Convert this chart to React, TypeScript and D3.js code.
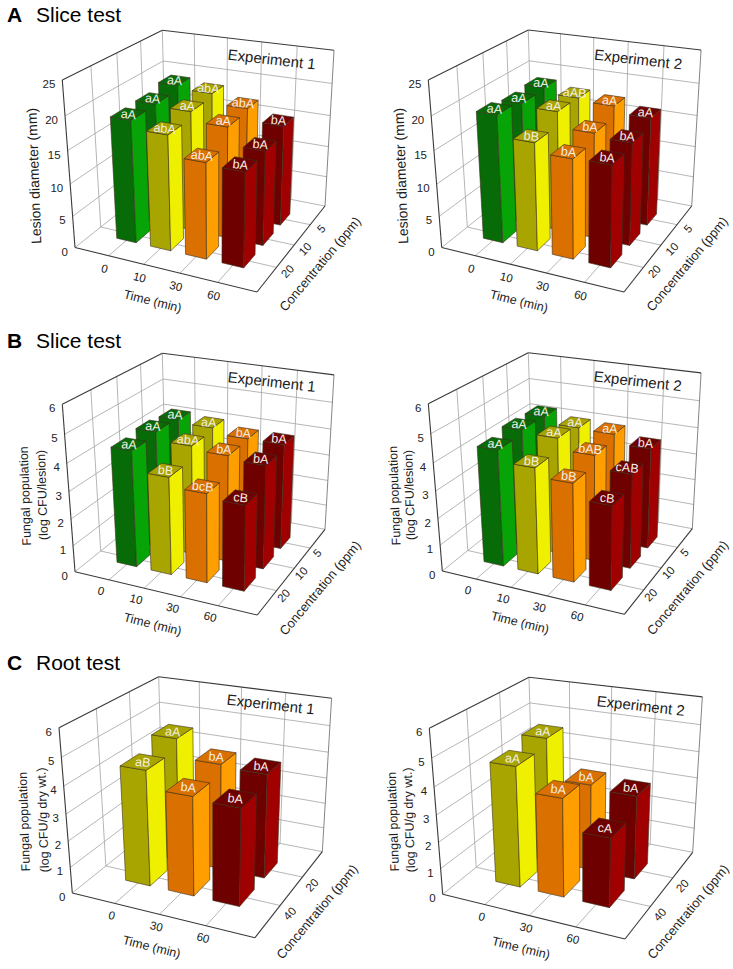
import { useEffect, useRef } from "react";
import * as d3 from "d3";

type Pt = [number, number];

const timesSlice = ["0", "10", "30", "60"];
const concSlice = ["20", "10", "5"];
const timesRoot = ["0", "30", "60"];
const concRoot = ["40", "20"];

const lesionTicks = [0, 5, 10, 15, 20, 25];
const logTicks = [0, 1, 2, 3, 4, 5, 6];

// rows follow the concentration order, front row first
const a1Values = [
  [18.8, 17.6, 14.6, 14.3],
  [18.9, 18.6, 17.2, 14.6],
  [19.6, 19.1, 17.6, 15.8],
];
const a1Letters = [
  ["aA", "abA", "abA", "bA"],
  ["aA", "aA", "aA", "bA"],
  ["aA", "abA", "abA", "bA"],
];
const a2Values = [
  [19.6, 16.5, 15.15, 15.3],
  [19, 18.6, 16.3, 15.8],
  [19.2, 18.4, 18, 17],
];
const a2Letters = [
  ["aA", "bB", "bA", "bA"],
  ["aA", "aA", "bA", "bA"],
  ["aA", "aAB", "aA", "aA"],
];
const b1Values = [
  [4.3, 3.6, 3.27, 3.12],
  [4.4, 4.1, 3.97, 3.85],
  [4.3, 4.2, 4, 4],
];
const b1Letters = [
  ["aA", "bB", "bcB", "cB"],
  ["aA", "abA", "bA", "bA"],
  ["aA", "aA", "bA", "bA"],
];
const b2Values = [
  [4.3, 3.9, 3.6, 3.07],
  [4.45, 4.35, 3.95, 3.5],
  [4.4, 4.17, 4.13, 3.8],
];
const b2Letters = [
  ["aA", "bB", "bB", "cB"],
  ["aA", "aA", "bAB", "cAB"],
  ["aA", "aA", "aA", "bA"],
];
const c1Values = [
  [4.35, 3.72, 3.62],
  [4.75, 4.06, 3.97],
];
const c1Letters = [
  ["aB", "bA", "bA"],
  ["aA", "bA", "bA"],
];
const c2Values = [
  [4.5, 3.66, 2.57],
  [4.77, 3.3, 3.17],
];
const c2Letters = [
  ["aA", "bA", "cA"],
  ["aA", "bA", "bA"],
];

// green, yellow, orange, dark red: front/top shade and side shade
const sliceFront = ["#076b07", "#a8a400", "#d97000", "#6e0000"];
const sliceSide = ["#06a406", "#efef00", "#ff9e00", "#a00000"];
const rootFront = sliceFront.slice(1);
const rootSide = sliceSide.slice(1);

interface PanelDef {
  times: string[];
  concs: string[];
  values: number[][];
  letters: string[][];
  front: string[];
  side: string[];
  zTicks: number[];
  yTitle: string[];
  yTitleSize: number;
  experiment: string;
  // image of the plot box: floor front-left, front-right, back-right, top front-left, back-left, back-right
  box: { o: Pt; x: Pt; b: Pt; z: Pt; t: Pt; u: Pt };
  yTitlePos: Pt[];
  timeTitlePos: Pt;
  concTitlePos: Pt;
  expPos: Pt;
  timeOff: Pt;
  concOff: Pt;
}

const panels: PanelDef[] = [
  {
    times: timesSlice, concs: concSlice, values: a1Values, letters: a1Letters,
    front: sliceFront, side: sliceSide, zTicks: lesionTicks,
    yTitle: ["Lesion diameter (mm)"], yTitleSize: 14, experiment: "Experiment 1",
    box: { o: [75, 247.5], x: [257, 292], b: [325, 206], z: [62.3, 80], t: [162.3, 30.3], u: [334, 51] },
    yTitlePos: [[34, 176]], timeTitlePos: [152.7, 301], concTitlePos: [320, 264], expPos: [271.7, 59.3],
    timeOff: [-4, 13], concOff: [11, 4],
  },
  {
    times: timesSlice, concs: concSlice, values: a2Values, letters: a2Letters,
    front: sliceFront, side: sliceSide, zTicks: lesionTicks,
    yTitle: ["Lesion diameter (mm)"], yTitleSize: 14, experiment: "Experiment 2",
    box: { o: [441.7, 247.5], x: [624, 292], b: [691.7, 206], z: [428.3, 80], t: [528.3, 30], u: [701, 51] },
    yTitlePos: [[401, 176]], timeTitlePos: [519, 301], concTitlePos: [687, 264], expPos: [638.3, 59.3],
    timeOff: [-4, 13], concOff: [11, 4],
  },
  {
    times: timesSlice, concs: concSlice, values: b1Values, letters: b1Letters,
    front: sliceFront, side: sliceSide, zTicks: logTicks,
    yTitle: ["Fungal population", "(log CFU/lesion)"], yTitleSize: 12.5, experiment: "Experiment 1",
    box: { o: [75, 571.7], x: [257.3, 615], b: [325, 529.3], z: [62.3, 404.3], t: [162.3, 353.3], u: [334, 375] },
    yTitlePos: [[25, 496], [42, 495]], timeTitlePos: [152.7, 624], concTitlePos: [320, 588], expPos: [271.7, 381.7],
    timeOff: [-8, 11], concOff: [7, 5],
  },
  {
    times: timesSlice, concs: concSlice, values: b2Values, letters: b2Letters,
    front: sliceFront, side: sliceSide, zTicks: logTicks,
    yTitle: ["Fungal population", "(log CFU/lesion)"], yTitleSize: 12.5, experiment: "Experiment 2",
    box: { o: [442.3, 571], x: [624.3, 614.3], b: [692.3, 528.7], z: [428.3, 403.7], t: [528.3, 352.7], u: [701, 374.3] },
    yTitlePos: [[394.3, 495.7], [409.3, 495]], timeTitlePos: [520, 622.3], concTitlePos: [687.5, 587.7], expPos: [637.7, 381],
    timeOff: [-8, 11], concOff: [7, 5],
  },
  {
    times: timesRoot, concs: concRoot, values: c1Values, letters: c1Letters,
    front: rootFront, side: rootSide, zTicks: logTicks,
    yTitle: ["Fungal population", "(log CFU/g dry wt.)"], yTitleSize: 12.5, experiment: "Experiment 1",
    box: { o: [72.3, 893], x: [255, 937.7], b: [322.3, 851.7], z: [59, 727.7], t: [158.7, 676.7], u: [331.7, 696.7] },
    yTitlePos: [[24, 821.7], [42.7, 820]], timeTitlePos: [151.7, 946.7], concTitlePos: [317, 911.7], expPos: [270.7, 704.3],
    timeOff: [-3, 12], concOff: [9.5, 8],
  },
  {
    times: timesRoot, concs: concRoot, values: c2Values, letters: c2Letters,
    front: rootFront, side: rootSide, zTicks: logTicks,
    yTitle: ["Fungal population", "(log CFU/g dry wt.)"], yTitleSize: 12.5, experiment: "Experiment 2",
    box: { o: [442.7, 894.3], x: [625, 939], b: [692.7, 852.3], z: [429.3, 728.3], t: [529, 677.3], u: [702.3, 697.7] },
    yTitlePos: [[393, 821.7], [409, 820]], timeTitlePos: [521, 947.7], concTitlePos: [688, 911.7], expPos: [640.7, 705.7],
    timeOff: [-3, 12], concOff: [9.5, 8],
  },
];

const headings = [
  { letter: "A", title: "Slice test", y: 22.3 },
  { letter: "B", title: "Slice test", y: 347.5 },
  { letter: "C", title: "Root test", y: 669.5 },
];

const FONT = "'Liberation Sans', Arial, sans-serif";

const sub = (a: Pt, c: Pt): Pt => [a[0] - c[0], a[1] - c[1]];

// solves a*p + c*q = r for two 2d columns
function solve2(p: Pt, q: Pt, r: Pt): Pt {
  const det = p[0] * q[1] - q[0] * p[1];
  return [(r[0] * q[1] - q[0] * r[1]) / det, (p[0] * r[1] - r[0] * p[1]) / det];
}

// projective map of the unit cube, solved from the picture of the visible box corners
function makeCamera(box: PanelDef["box"]) {
  const { o, x, b, z, t, u } = box;
  const [wz] = solve2(sub(z, u), sub(b, u), sub(o, u));
  const tz = sub(t, z);
  const [wx, q] = solve2(sub(b, x), sub(b, t), [wz * tz[0], wz * tz[1]]);
  const wy = q + 1;
  const s = wx + wy - 1;
  const ay: Pt = [b[0] * s - wx * x[0] + o[0], b[1] * s - wx * x[1] + o[1]];
  return (i: number, j: number, k: number): Pt => {
    const d = 1 + i * (wx - 1) + j * (wy - 1) + k * (wz - 1);
    return [
      (o[0] + i * (wx * x[0] - o[0]) + j * (ay[0] - o[0]) + k * (wz * z[0] - o[0])) / d,
      (o[1] + i * (wx * x[1] - o[1]) + j * (ay[1] - o[1]) + k * (wz * z[1] - o[1])) / d,
    ];
  };
}

function drawPanel(g: d3.Selection<SVGGElement, unknown, null, undefined>, p: PanelDef) {
  const cam = makeCamera(p.box);
  const line = d3.line<Pt>();

  const xs = d3.scaleLinear().domain([0, p.times.length + 1]).range([0, 1]);
  const ys = d3.scaleLinear().domain([0, p.concs.length + 1]).range([0, 1]);
  const zs = d3.scaleLinear().domain(d3.extent(p.zTicks) as [number, number]).range([0, 1]);

  const xTicks = d3.range(1, p.times.length + 1);
  const yTicks = d3.range(1, p.concs.length + 1);

  const seg = (a: Pt, c: Pt, color: string, w: number) =>
    g.append("path").attr("d", line([a, c])).attr("stroke", color).attr("stroke-width", w).attr("fill", "none");

  const grid = "#a3a3a3";
  const gw = 0.8;
  // floor
  xTicks.forEach((i) => seg(cam(xs(i), 0, 0), cam(xs(i), 1, 0), grid, gw));
  yTicks.forEach((j) => seg(cam(0, ys(j), 0), cam(1, ys(j), 0), grid, gw));
  // back and left walls
  xTicks.forEach((i) => seg(cam(xs(i), 1, 0), cam(xs(i), 1, 1), grid, gw));
  yTicks.forEach((j) => seg(cam(0, ys(j), 0), cam(0, ys(j), 1), grid, gw));
  p.zTicks.slice(1, -1).forEach((v) => {
    seg(cam(0, 0, zs(v)), cam(0, 1, zs(v)), grid, gw);
    seg(cam(0, 1, zs(v)), cam(1, 1, zs(v)), grid, gw);
  });
  seg(cam(0, 0, 0), cam(0, 1, 0), grid, gw);
  seg(cam(0, 1, 0), cam(1, 1, 0), grid, gw);
  seg(cam(0, 1, 0), cam(0, 1, 1), grid, gw);
  seg(cam(1, 1, 0), cam(1, 1, 1), "#777", 0.9);

  // frame
  const dark = "#3a3a3a";
  seg(cam(0, 0, 0), cam(1, 0, 0), dark, 1.1);
  seg(cam(1, 0, 0), cam(1, 1, 0), dark, 1.1);
  seg(cam(0, 0, 0), cam(0, 0, 1), dark, 1.1);
  seg(cam(0, 0, 1), cam(0, 1, 1), dark, 1.1);
  seg(cam(0, 1, 1), cam(1, 1, 1), dark, 1.1);

  // bars, back row first and left to right so nearer ones paint over
  const hx = 0.29 * (xs(1) - xs(0));
  const hy = 0.29 * (ys(1) - ys(0));
  const rows = d3.range(p.concs.length).reverse();
  rows.forEach((j) => {
    p.values[j].forEach((v, i) => {
      const cx = xs(i + 1);
      const cy = ys(j + 1);
      const h = zs(v);
      const face = (pts: Pt[], color: string) =>
        g.append("path")
          .attr("d", line(pts) + "Z")
          .attr("fill", color)
          .attr("stroke", "#3c3020")
          .attr("stroke-width", 0.6)
          .attr("stroke-linejoin", "round");
      const x0 = cx - hx, x1 = cx + hx, y0 = cy - hy, y1 = cy + hy;
      face([cam(x0, y0, 0), cam(x1, y0, 0), cam(x1, y0, h), cam(x0, y0, h)], p.front[i]);
      face([cam(x1, y0, 0), cam(x1, y1, 0), cam(x1, y1, h), cam(x1, y0, h)], p.side[i]);
      face([cam(x0, y0, h), cam(x1, y0, h), cam(x1, y1, h), cam(x0, y1, h)], p.front[i]);
      const c = cam(cx, cy, h);
      const ang = (Math.atan2(cam(x1, cy, h)[1] - cam(x0, cy, h)[1], cam(x1, cy, h)[0] - cam(x0, cy, h)[0]) * 180) / Math.PI;
      g.append("text")
        .attr("transform", `translate(${c[0]},${c[1] + 4.5}) rotate(${ang * 0.6})`)
        .attr("text-anchor", "middle")
        .attr("font-size", 12.5)
        .attr("fill", "#f4efe6")
        .text(p.letters[j][i]);
    });
  });

  // tick labels
  p.zTicks.forEach((v) => {
    const a = cam(0, 0, zs(v));
    g.append("text")
      .attr("x", a[0] - 7).attr("y", a[1] + 8)
      .attr("text-anchor", "end").attr("font-size", 11.5).attr("fill", "#222")
      .text(v);
  });
  p.times.forEach((label, i) => {
    const a = cam(xs(i + 1), 0, 0);
    g.append("text")
      .attr("transform", `translate(${a[0] + p.timeOff[0]},${a[1] + p.timeOff[1]}) rotate(14)`)
      .attr("text-anchor", "middle").attr("dy", "0.35em").attr("font-size", 11.5).attr("fill", "#222")
      .text(label);
  });
  p.concs.forEach((label, j) => {
    const a = cam(1, ys(j + 1), 0);
    g.append("text")
      .attr("transform", `translate(${a[0] + p.concOff[0]},${a[1] + p.concOff[1]}) rotate(-47)`)
      .attr("text-anchor", "middle").attr("dy", "0.35em").attr("font-size", 11.5).attr("fill", "#222")
      .text(label);
  });

  // titles
  const title = (pos: Pt, rot: number, text: string, size: number) =>
    g.append("text")
      .attr("transform", `translate(${pos[0]},${pos[1]}) rotate(${rot})`)
      .attr("text-anchor", "middle").attr("dy", "0.35em").attr("font-size", size).attr("fill", "#1c1c1c")
      .text(text);
  p.yTitle.forEach((text, k) => title(p.yTitlePos[k], -92, text, p.yTitleSize));
  title(p.timeTitlePos, 14, "Time (min)", 12.5);
  title(p.concTitlePos, -50, "Concentration (ppm)", 13);
  title(p.expPos, 6.5, p.experiment, 15);
}

export default function App() {
  const svgRef = useRef<SVGSVGElement>(null);

  useEffect(() => {
    if (!svgRef.current) return;
    const svg = d3.select(svgRef.current);
    svg.selectAll("*").remove();
    svg.attr("font-family", FONT);

    headings.forEach((h) => {
      svg.append("text").attr("x", 7).attr("y", h.y).attr("font-size", 21).attr("font-weight", 700).text(h.letter);
      svg.append("text").attr("x", 36).attr("y", h.y).attr("font-size", 21).text(h.title);
    });
    panels.forEach((p) => drawPanel(svg.append("g") as any, p));
  }, []);

  return (
    <svg
      ref={svgRef}
      width={733}
      height={969}
      style={{ position: "absolute", left: 0, top: 0, background: "#fff" }}
    />
  );
}
